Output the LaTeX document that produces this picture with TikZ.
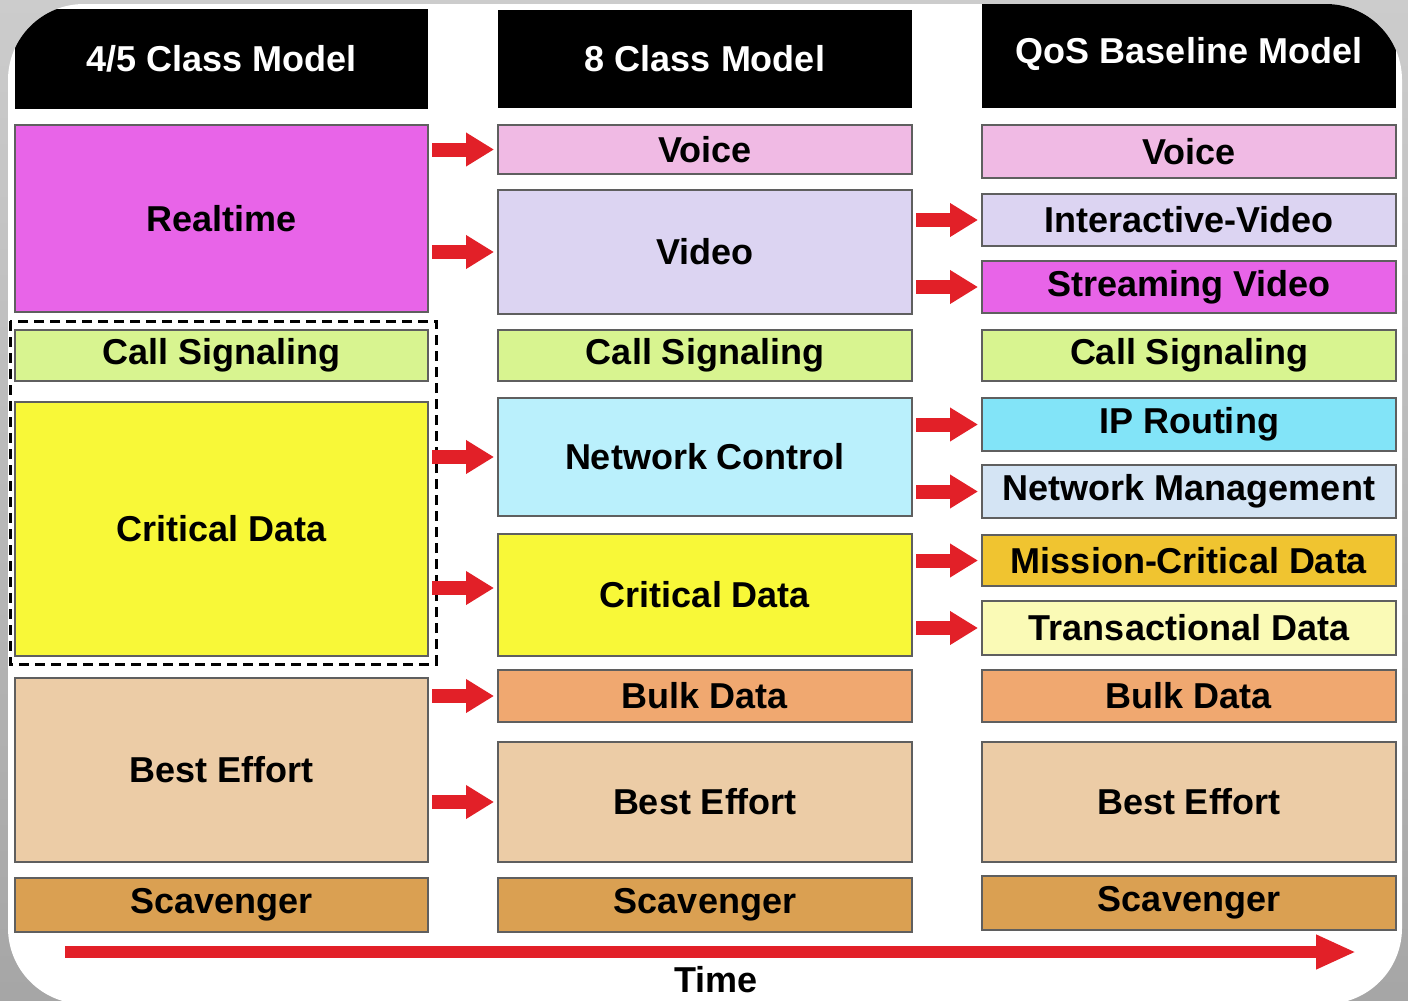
\documentclass[tikz,border=0pt]{standalone}
\usepackage{fontspec}
\setmainfont{Liberation Sans}
\usetikzlibrary{arrows.meta}
\definecolor{bggray}{RGB}{140,140,140}
\definecolor{bdr}{RGB}{95,95,95}
\definecolor{cmag}{RGB}{232,100,232}
\definecolor{cpink}{RGB}{240,186,228}
\definecolor{clav}{RGB}{220,212,242}
\definecolor{cgreen}{RGB}{216,244,144}
\definecolor{cyel}{RGB}{248,248,56}
\definecolor{ccyanl}{RGB}{186,240,252}
\definecolor{ccyan}{RGB}{130,228,248}
\definecolor{cnm}{RGB}{212,228,244}
\definecolor{cgold}{RGB}{240,196,48}
\definecolor{cltyel}{RGB}{250,250,182}
\definecolor{cbulk}{RGB}{240,168,112}
\definecolor{cbest}{RGB}{236,204,166}
\definecolor{cscav}{RGB}{218,160,82}
\definecolor{cred}{RGB}{226,32,40}
\newcommand{\bx}[7]{\node[cls, fill=#6, minimum width={(#4-#2)*0.5pt}, minimum height={(#5-#3)*0.5pt}] (#1) at ({(#2+#4)/2},{(#3+#5)/2}) {#7};}
\tikzset{
  cls/.style={draw=bdr, line width=1pt, inner sep=0pt, outer sep=0pt, font=\fontsize{18}{20}\selectfont\bfseries, text=black},
  hdr/.style={fill=black, draw=none, inner sep=0pt, outer sep=0pt, font=\fontsize{18}{20}\selectfont\bfseries, text=white},
  rarrow/.style={draw=cred, line width=7pt, -{Triangle[length=14pt, width=16pt]}, shorten <=2pt, shorten >=2pt},
}
\begin{document}
\begin{tikzpicture}[x=0.5pt, y=-0.5pt]
\useasboundingbox (0,0) rectangle (1408,1001);
\shade[top color=gray!40, bottom color=gray!70] (0,0) rectangle (1408,1001);
\fill[white, rounded corners=38pt] (8,4) rectangle (1402,1004);
\begin{scope}
\clip[rounded corners=38pt] (8,4) rectangle (1402,1004);
\node[hdr, minimum width={(428-15)*0.5pt}, minimum height={(108-8)*0.5pt}] (h1) at ({(15+428)/2},{(10+108)/2}) {4/5 Class Model};
\node[hdr, minimum width={(912-498)*0.5pt}, minimum height={(108-10)*0.5pt}] (h2) at ({(498+912)/2},{(10+108)/2}) {8 Class Model};
\node[hdr, minimum width={(1396-982)*0.5pt}, minimum height={(108-0)*0.5pt}] (h3) at ({(982+1396)/2},{(0+108)/2}) {QoS Baseline Model};
\end{scope}
% dashed group
\draw[black, line width=1.5pt, dash pattern=on 5pt off 3pt] (10,321) rectangle (436,664);
% column 1
\bx{a1}{15}{125}{428}{312}{cmag}{Realtime}
\bx{a2}{15}{330}{428}{381}{cgreen}{Call Signaling}
\bx{a3}{15}{402}{428}{656}{cyel}{Critical Data}
\bx{a4}{15}{678}{428}{862}{cbest}{Best Effort}
\bx{a5}{15}{878}{428}{932}{cscav}{Scavenger}
% column 2
\bx{b1}{498}{125}{912}{174}{cpink}{Voice}
\bx{b2}{498}{190}{912}{314}{clav}{Video}
\bx{b3}{498}{330}{912}{381}{cgreen}{Call Signaling}
\bx{b4}{498}{398}{912}{516}{ccyanl}{Network Control}
\bx{b5}{498}{534}{912}{656}{cyel}{Critical Data}
\bx{b6}{498}{670}{912}{722}{cbulk}{Bulk Data}
\bx{b7}{498}{742}{912}{862}{cbest}{Best Effort}
\bx{b8}{498}{878}{912}{932}{cscav}{Scavenger}
% column 3
\bx{c1}{982}{125}{1396}{178}{cpink}{Voice}
\bx{c2}{982}{194}{1396}{246}{clav}{Interactive-Video}
\bx{c3}{982}{261}{1396}{313}{cmag}{Streaming Video}
\bx{c4}{982}{330}{1396}{381}{cgreen}{Call Signaling}
\bx{c5}{982}{398}{1396}{451}{ccyan}{IP Routing}
\bx{c6}{982}{465}{1396}{518}{cnm}{Network Management}
\bx{c7}{982}{535}{1396}{586}{cgold}{Mission-Critical Data}
\bx{c8}{982}{601}{1396}{655}{cltyel}{Transactional Data}
\bx{c9}{982}{670}{1396}{722}{cbulk}{Bulk Data}
\bx{c10}{982}{742}{1396}{862}{cbest}{Best Effort}
\bx{c11}{982}{876}{1396}{930}{cscav}{Scavenger}
% arrows col1 -> col2
\draw[rarrow] (a1.east |- b1.west) -- (b1.west);
\draw[rarrow] (a1.east |- b2.west) -- (b2.west);
\draw[rarrow] (a3.east |- b4.west) -- (b4.west);
\draw[rarrow] ([yshift=3.5pt]a3.east |- b5.west) -- ([yshift=3.5pt]b5.west);
\draw[rarrow] (a4.east |- b6.west) -- (b6.west);
\draw[rarrow] (a4.east |- b7.west) -- (b7.west);
% arrows col2 -> col3
\draw[rarrow] (b2.east |- c2.west) -- (c2.west);
\draw[rarrow] (b2.east |- c3.west) -- (c3.west);
\draw[rarrow] (b4.east |- c5.west) -- (c5.west);
\draw[rarrow] (b4.east |- c6.west) -- (c6.west);
\draw[rarrow] (b5.east |- c7.west) -- (c7.west);
\draw[rarrow] (b5.east |- c8.west) -- (c8.west);
% time arrow
\coordinate (t0) at (65,952);
\coordinate (t1) at (1356,952);
\draw[draw=cred, line width=6pt, -{Triangle[length=20pt, width=16pt]}] (t0) -- (t1);
\node[font=\fontsize{18}{20}\selectfont\bfseries, inner sep=0pt] (time) at (716,980) {Time};
\end{tikzpicture}
\end{document}
